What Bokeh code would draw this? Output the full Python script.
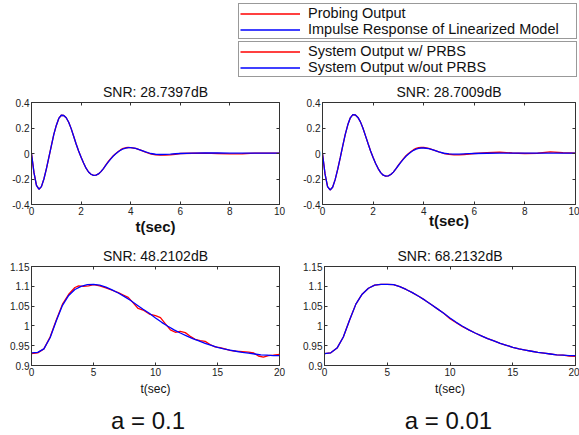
from bokeh.plotting import figure
from bokeh.layouts import column, row
from bokeh.models import (Legend, LegendItem, Label, Range1d, FixedTicker,
                          NumeralTickFormatter, LinearAxis)
from bokeh.embed import file_html
from bokeh.resources import INLINE

FONT = "Liberation Sans"
RED = "#ff0000"
BLUE = "#0000ff"

# ---------------- data ----------------
t_top = [0.0, 0.1, 0.2, 0.3, 0.4, 0.5, 0.6, 0.7, 0.8, 0.9, 1.0, 1.1, 1.2, 1.3, 1.4, 1.5,
         1.6, 1.7, 1.8, 1.9, 2.0, 2.1, 2.2, 2.3, 2.4, 2.5, 2.6, 2.7, 2.8, 2.9, 3.0, 3.1,
         3.2, 3.3, 3.4, 3.5, 3.6, 3.7, 3.8, 3.9, 4.0, 4.2, 4.4, 4.6, 4.8, 5.0, 5.2, 5.4,
         5.6, 5.8, 6.0, 6.5, 7.0, 7.5, 8.0, 8.5, 9.0, 9.5, 10.0]

tl_impulse = [0.0, -0.15, -0.25, -0.28, -0.26, -0.20, -0.12, -0.03, 0.06, 0.15, 0.22, 0.275,
              0.30, 0.298, 0.28, 0.245, 0.195, 0.135, 0.075, 0.02, -0.03, -0.075, -0.115,
              -0.145, -0.163, -0.172, -0.17, -0.16, -0.142, -0.118, -0.092, -0.066, -0.042,
              -0.02, -0.002, 0.014, 0.027, 0.037, 0.043, 0.046, 0.046, 0.04, 0.027, 0.012,
              0.0, -0.006, -0.008, -0.007, -0.005, -0.002, 0.0, 0.003, 0.004, 0.004, 0.003,
              0.003, 0.003, 0.003, 0.003]
tl_probing = [0.0, -0.15, -0.25, -0.28, -0.26, -0.20, -0.12, -0.03, 0.06, 0.15, 0.22, 0.275,
              0.30, 0.298, 0.28, 0.245, 0.195, 0.135, 0.075, 0.02, -0.03, -0.075, -0.115,
              -0.145, -0.163, -0.172, -0.17, -0.16, -0.142, -0.118, -0.09, -0.062, -0.038,
              -0.017, 0.0, 0.016, 0.03, 0.04, 0.045, 0.047, 0.046, 0.04, 0.026, 0.01,
              -0.002, -0.01, -0.012, -0.012, -0.01, -0.006, 0.0, 0.002, 0.003, 0.0, -0.003,
              -0.002, 0.003, 0.003, 0.003]

tr_impulse = [0.0, -0.16, -0.26, -0.286, -0.265, -0.205, -0.125, -0.035, 0.06, 0.15, 0.225,
              0.28, 0.305, 0.302, 0.283, 0.248, 0.198, 0.138, 0.078, 0.02, -0.032, -0.078,
              -0.118, -0.15, -0.17, -0.178, -0.176, -0.165, -0.146, -0.12, -0.094, -0.068,
              -0.044, -0.022, -0.004, 0.012, 0.025, 0.034, 0.04, 0.043, 0.043, 0.038, 0.026,
              0.012, 0.002, -0.003, -0.005, -0.005, -0.003, -0.001, 0.0, 0.002, 0.003,
              0.003, 0.003, 0.003, 0.003, 0.003, 0.003]
tr_probing = [0.0, -0.16, -0.26, -0.286, -0.265, -0.205, -0.125, -0.035, 0.06, 0.15, 0.225,
              0.28, 0.305, 0.302, 0.283, 0.248, 0.198, 0.138, 0.078, 0.02, -0.032, -0.078,
              -0.118, -0.15, -0.17, -0.178, -0.176, -0.165, -0.146, -0.12, -0.092, -0.065,
              -0.04, -0.018, 0.0, 0.016, 0.03, 0.04, 0.046, 0.048, 0.047, 0.04, 0.027,
              0.012, 0.0, -0.006, -0.01, -0.011, -0.008, -0.004, 0.0, 0.006, 0.01, 0.004,
              0.0, 0.002, 0.012, 0.006, 0.003]

t_bot = [0.0, 0.5, 1.0, 1.5, 2.0, 2.5, 3.0, 3.5, 4.0, 4.5, 5.0, 5.5, 6.0, 6.5, 7.0, 7.5,
         8.0, 8.5, 9.0, 9.5, 10.0, 10.5, 11.0, 11.5, 12.0, 12.5, 13.0, 13.5, 14.0, 14.5,
         15.0, 15.5, 16.0, 16.5, 17.0, 17.5, 18.0, 18.5, 19.0, 19.5, 20.0]

bl_no_prbs = [0.932, 0.933, 0.942, 0.970, 1.013, 1.052, 1.077, 1.092, 1.100, 1.104, 1.105,
              1.103, 1.098, 1.091, 1.083, 1.074, 1.064, 1.053, 1.042, 1.032, 1.020, 1.009,
              0.999, 0.990, 0.982, 0.975, 0.968, 0.962, 0.956, 0.951, 0.946, 0.942, 0.939,
              0.936, 0.933, 0.931, 0.929, 0.927, 0.926, 0.925, 0.925]

t_bl_prbs = [0.0, 0.5, 1.0, 1.5, 2.0, 2.5, 3.0, 3.5, 3.8, 4.2, 4.6, 5.0, 5.5, 6.0, 6.5, 7.0,
             7.4, 7.8, 8.2, 8.6, 9.0, 9.5, 10.0, 10.4, 10.8, 11.2, 11.6, 12.0, 12.4, 12.8,
             13.2, 13.6, 14.0, 14.4, 14.8, 15.2, 15.6, 16.0, 16.5, 17.0, 17.5, 17.9, 18.3,
             18.7, 19.1, 19.5, 20.0]
bl_w_prbs = [0.930, 0.932, 0.942, 0.972, 1.015, 1.055, 1.080, 1.097, 1.101, 1.100, 1.101,
             1.104, 1.101, 1.096, 1.090, 1.084, 1.078, 1.072, 1.058, 1.044, 1.040, 1.030,
             1.026, 1.021, 1.005, 0.990, 0.984, 0.986, 0.983, 0.974, 0.966, 0.963, 0.961,
             0.953, 0.947, 0.945, 0.942, 0.938, 0.936, 0.935, 0.934, 0.932, 0.924, 0.921,
             0.925, 0.926, 0.928]

br_no_prbs = [0.930, 0.932, 0.944, 0.972, 1.015, 1.055, 1.080, 1.095, 1.103, 1.105, 1.105,
              1.104, 1.099, 1.092, 1.084, 1.075, 1.065, 1.054, 1.043, 1.032, 1.020, 1.009,
              0.999, 0.990, 0.982, 0.975, 0.968, 0.962, 0.956, 0.951, 0.946, 0.942, 0.939,
              0.936, 0.933, 0.931, 0.929, 0.927, 0.926, 0.925, 0.925]
br_w_prbs = [0.930, 0.932, 0.944, 0.972, 1.015, 1.055, 1.080, 1.095, 1.103, 1.105, 1.105,
             1.104, 1.099, 1.092, 1.084, 1.075, 1.065, 1.054, 1.043, 1.032, 1.018, 1.008,
             0.998, 0.990, 0.982, 0.975, 0.968, 0.962, 0.956, 0.951, 0.946, 0.942, 0.939,
             0.936, 0.933, 0.931, 0.929, 0.927, 0.926, 0.924, 0.923]

titles = ["SNR: 28.7397dB", "SNR: 28.7009dB", "SNR: 48.2102dB", "SNR: 68.2132dB"]
x_ticks_top = [0, 2, 4, 6, 8, 10]
y_ticks_top = [-0.4, -0.2, 0, 0.2, 0.4]
x_ticks_bot = [0, 5, 10, 15, 20]
y_ticks_bot = [0.9, 0.95, 1.0, 1.05, 1.1, 1.15]
case_labels = ["a = 0.1", "a = 0.01"]
legend1_labels = ["Probing Output", "Impulse Response of Linearized Model"]
legend2_labels = ["System Output w/ PRBS", "System Output w/out PRBS"]


def tick_only_axis(ticks):
    ax = LinearAxis(ticker=FixedTicker(ticks=ticks))
    ax.axis_line_color = None
    ax.major_tick_line_color = "#333333"
    ax.major_tick_in = 3
    ax.major_tick_out = 0
    ax.minor_tick_line_color = None
    ax.major_label_text_font_size = "0px"
    ax.major_label_standoff = 0
    ax.major_label_text_alpha = 0
    return ax


def make_panel(title, xr, yr, xt, yt, yfmt, width, height, bl, br, bt, bb):
    p = figure(width=width, height=height, x_range=Range1d(*xr), y_range=Range1d(*yr),
               output_backend="svg", toolbar_location=None,
               min_border_left=bl, min_border_right=br, min_border_top=bt, min_border_bottom=bb)
    p.title.text = title
    p.title.align = "center"
    p.title.text_font = FONT
    p.title.text_font_size = "14px"
    p.title.text_font_style = "normal"
    p.title.text_color = "#111111"
    p.title.standoff = 5
    p.grid.visible = False
    p.outline_line_color = "#333333"
    p.outline_line_width = 1
    p.background_fill_color = "white"
    p.border_fill_color = "white"
    xa = p.below[0]
    ya = p.left[0]
    for ax in (xa, ya):
        ax.axis_line_color = "#333333"
        ax.major_tick_line_color = "#333333"
        ax.major_tick_in = 3
        ax.major_tick_out = 0
        ax.minor_tick_line_color = None
        ax.major_label_text_font = FONT
        ax.major_label_text_font_size = "10px"
        ax.major_label_text_color = "#222222"
    xa.ticker = FixedTicker(ticks=xt)
    ya.ticker = FixedTicker(ticks=yt)
    xa.formatter = NumeralTickFormatter(format="0")
    ya.formatter = NumeralTickFormatter(format=yfmt)
    xa.major_label_standoff = 2
    ya.major_label_standoff = 2
    xa.axis_label = "t(sec)"
    xa.axis_label_text_font = FONT
    xa.axis_label_text_color = "#111111"
    # MATLAB-style box: ticks on the top and right edges too
    p.add_layout(tick_only_axis(xt), "above")
    p.add_layout(tick_only_axis(yt), "right")
    return p, xa


# top row (page y 78..240)
tl, tl_x = make_panel(titles[0], (0, 10), (-0.4, 0.4), x_ticks_top, y_ticks_top, "0.[0]",
                      300, 162, 31, 21, 24, 36)
tl.line(t_top, tl_probing, color=RED, line_width=1.3)
tl.line(t_top, tl_impulse, color=BLUE, line_width=1.3)
tl_x.axis_label_text_font_size = "15px"
tl_x.axis_label_text_font_style = "bold"
tl_x.axis_label_standoff = 0

tr, tr_x = make_panel(titles[1], (0, 10), (-0.4, 0.4), x_ticks_top, y_ticks_top, "0.[0]",
                      279, 162, 20, 4, 24, 36)
tr.line(t_top, tr_probing, color=RED, line_width=1.3)
tr.line(t_top, tr_impulse, color=BLUE, line_width=1.3)
tr_x.axis_label_text_font_size = "15px"
tr_x.axis_label_text_font_style = "bold"
tr_x.axis_label_standoff = -6

# bottom row (page y 240..400)
bl, bl_x = make_panel(titles[2], (0, 20), (0.9, 1.15), x_ticks_bot, y_ticks_bot, "0.[00]",
                      300, 160, 31, 21, 26, 35)
bl.line(t_bl_prbs, bl_w_prbs, color=RED, line_width=1.3)
bl.line(t_bot, bl_no_prbs, color=BLUE, line_width=1.3)

br, br_x = make_panel(titles[3], (0, 20), (0.9, 1.15), x_ticks_bot, y_ticks_bot, "0.[00]",
                      279, 160, 21, 4, 26, 35)
br.line(t_bot, br_w_prbs, color=RED, line_width=1.3)
br.line(t_bot, br_no_prbs, color=BLUE, line_width=1.3)

for xa in (bl_x, br_x):
    xa.axis_label_text_font_size = "12px"
    xa.axis_label_text_font_style = "normal"
    xa.axis_label_standoff = 3


# case-label row (page y 400..435)
def case_fig(width, bl, br, text, cx):
    f = figure(width=width, height=35, x_range=Range1d(0, 20), y_range=Range1d(0, 1),
               x_axis_type=None, y_axis_type=None, output_backend="svg",
               toolbar_location=None, min_border_left=bl, min_border_right=br,
               min_border_top=0, min_border_bottom=0)
    f.grid.visible = False
    f.outline_line_color = None
    f.add_layout(Label(x=cx, y=0.43, text=text, text_align="center",
                       text_baseline="middle", text_font=FONT, text_font_size="24px",
                       text_color="#111111"))
    return f


cl = case_fig(300, 31, 21, case_labels[0], 9.4)
cr = case_fig(279, 21, 4, case_labels[1], 10.0)

# legend figure (page y 0..78)
LH = 78
lf = figure(width=579, height=LH, x_range=Range1d(0, 1), y_range=Range1d(0, 1),
            x_axis_type=None, y_axis_type=None,
            output_backend="svg", toolbar_location=None,
            min_border_left=0, min_border_right=0, min_border_top=0, min_border_bottom=0)
lf.grid.visible = False
lf.outline_line_color = None
off_x = [-10, -9]
off_y = [-10, -10]
r1 = lf.line(off_x, off_y, color=RED, line_width=1.3)
r2 = lf.line(off_x, off_y, color=BLUE, line_width=1.3)
r3 = lf.line(off_x, off_y, color=RED, line_width=1.3)
r4 = lf.line(off_x, off_y, color=BLUE, line_width=1.3)


def style_legend(lg):
    lg.padding = 1
    lg.spacing = 0
    lg.margin = 0
    lg.glyph_width = 60
    lg.glyph_height = 15
    lg.label_height = 15
    lg.label_standoff = 8
    lg.label_width = 267
    lg.label_text_font = FONT
    lg.label_text_font_size = "14.5px"
    lg.label_text_color = "#111111"
    lg.border_line_color = "#333333"
    lg.border_line_width = 1
    lg.background_fill_color = "white"
    lg.background_fill_alpha = 1


leg1 = Legend(items=[LegendItem(label=legend1_labels[0], renderers=[r1]),
                     LegendItem(label=legend1_labels[1], renderers=[r2])],
              location=(238, LH - 39))
leg2 = Legend(items=[LegendItem(label=legend2_labels[0], renderers=[r3]),
                     LegendItem(label=legend2_labels[1], renderers=[r4])],
              location=(238, LH - 77))
style_legend(leg1)
style_legend(leg2)
lf.add_layout(leg1, "center")
lf.add_layout(leg2, "center")

layout = column(lf, row(tl, tr), row(bl, br), row(cl, cr))

open("out.html", "w").write(file_html(layout, INLINE))
